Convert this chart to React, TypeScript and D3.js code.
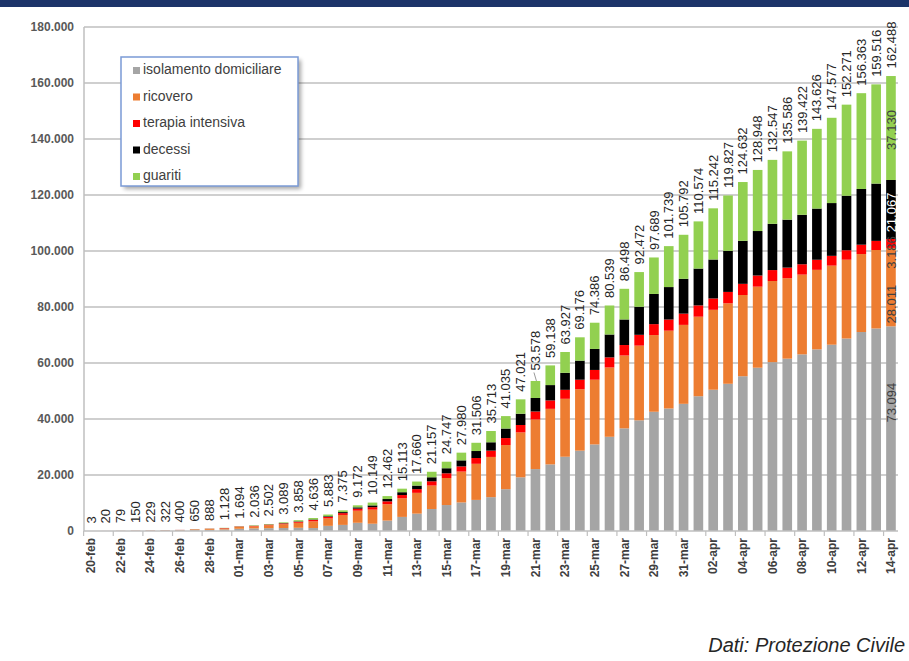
import React, { useEffect, useRef } from 'react'
import * as d3 from 'd3'

// date labels, one per bar
const dates = [
  '20-feb', '21-feb', '22-feb', '23-feb', '24-feb', '25-feb', '26-feb', '27-feb', '28-feb', '29-feb',
  '01-mar', '02-mar', '03-mar', '04-mar', '05-mar', '06-mar', '07-mar', '08-mar', '09-mar', '10-mar',
  '11-mar', '12-mar', '13-mar', '14-mar', '15-mar', '16-mar', '17-mar', '18-mar', '19-mar', '20-mar',
  '21-mar', '22-mar', '23-mar', '24-mar', '25-mar', '26-mar', '27-mar', '28-mar', '29-mar', '30-mar',
  '31-mar', '01-apr', '02-apr', '03-apr', '04-apr', '05-apr', '06-apr', '07-apr', '08-apr', '09-apr',
  '10-apr', '11-apr', '12-apr', '13-apr', '14-apr'
]

const isolamento = [
  0, 0, 28, 60, 94, 162, 221, 284, 412, 543,
  798, 927, 1000, 1065, 1155, 1060, 1843, 2180, 2936, 2599,
  3724, 5036, 6201, 7860, 9268, 10197, 11108, 12090, 14935, 19185,
  22116, 23783, 26522, 28697, 30920, 33648, 36653, 39533, 42588, 43752,
  45420, 48134, 50456, 52579, 55270, 58320, 60313, 61557, 63084, 64873,
  66534, 68744, 71063, 72333, 73094
]
const ricovero = [
  3, 16, 38, 66, 101, 114, 128, 248, 345, 401,
  639, 742, 1034, 1346, 1790, 2394, 2651, 3557, 4316, 5038,
  5838, 6650, 7426, 8372, 9663, 11025, 12894, 14363, 15757, 16020,
  17708, 19846, 20692, 21937, 23112, 24753, 26029, 26676, 27386, 27795,
  28192, 28403, 28540, 28741, 29010, 28949, 28976, 28718, 28485, 28399,
  28242, 28144, 27847, 28023, 28011
]
const terapia = [
  0, 3, 10, 21, 26, 35, 36, 56, 64, 105,
  140, 166, 229, 295, 351, 462, 567, 650, 733, 877,
  1028, 1153, 1328, 1518, 1672, 1851, 2060, 2257, 2498, 2655,
  2857, 3009, 3204, 3396, 3489, 3612, 3732, 3856, 3906, 3981,
  4023, 4035, 4053, 4068, 3994, 3977, 3898, 3792, 3693, 3605,
  3497, 3381, 3343, 3260, 3186
]
const decessi = [
  0, 1, 3, 3, 7, 10, 12, 17, 21, 29,
  34, 52, 79, 107, 148, 197, 233, 366, 463, 631,
  827, 1016, 1266, 1441, 1809, 2158, 2503, 2978, 3405, 4032,
  4825, 5476, 6077, 6820, 7503, 8165, 9134, 10023, 10779, 11591,
  12428, 13155, 13915, 14681, 15362, 15887, 16523, 17127, 17669, 18279,
  18849, 19468, 19899, 20465, 21067
]
const guariti = [
  0, 0, 0, 0, 1, 1, 3, 45, 46, 50,
  83, 149, 160, 276, 414, 523, 589, 622, 724, 1004,
  1045, 1258, 1439, 1966, 2335, 2749, 2941, 4025, 4440, 5129,
  6072, 7024, 7432, 8326, 9362, 10361, 10950, 12384, 13030, 14620,
  15729, 16847, 18278, 19758, 20996, 21815, 22837, 24392, 26491, 28470,
  30455, 32534, 34211, 35435, 37130
]

const seriesNames = ['isolamento domiciliare', 'ricovero', 'terapia intensiva', 'decessi', 'guariti']
const seriesValues = [isolamento, ricovero, terapia, decessi, guariti]
const seriesColors = ['#a5a5a5', '#ed7d31', '#ff0000', '#000000', '#92d050']

const yTicks = [0, 20000, 40000, 60000, 80000, 100000, 120000, 140000, 160000, 180000]

const FONT = "'Liberation Sans', Arial, Helvetica, sans-serif"

export default function App() {
  const svgRef = useRef<SVGSVGElement>(null)

  useEffect(() => {
    const svg = d3.select(svgRef.current)
    svg.selectAll('*').remove()

    const itFormat = d3.formatLocale({ decimal: ',', thousands: '.', grouping: [3], currency: ['', '€'] }).format(',d')

    const rows = dates.map((d, i) => {
      const row: any = { date: d }
      seriesNames.forEach((s, k) => { row[s] = seriesValues[k][i] })
      return row
    })
    const totals = rows.map(r => d3.sum(seriesNames, s => r[s]))
    const stacked = d3.stack().keys(seriesNames)(rows)

    const x = d3.scaleBand().domain(dates).range([84, 898]).paddingInner(0.35).paddingOuter(0.15)
    const y = d3.scaleLinear().domain([0, 180000]).range([531, 27])

    // header band
    svg.append('rect').attr('x', 0).attr('y', 0).attr('width', 909).attr('height', 7).attr('fill', '#1c3469')

    // gridlines
    svg.append('g').selectAll('line').data(yTicks.slice(1)).join('line')
      .attr('x1', 84).attr('x2', 898)
      .attr('y1', d => y(d)).attr('y2', d => y(d))
      .attr('stroke', '#bfbfbf').attr('stroke-width', 1.5)

    // y labels
    svg.append('g').selectAll('text').data(yTicks).join('text')
      .attr('x', 74).attr('y', d => y(d)).attr('dy', '0.35em')
      .attr('text-anchor', 'end')
      .style('font-family', FONT).style('font-size', '12px').style('font-weight', 'bold')
      .attr('fill', '#595959')
      .text(d => itFormat(d))

    // bars
    const layers = svg.append('g').selectAll('g').data(stacked).join('g')
      .attr('fill', (_d, i) => seriesColors[i])
    layers.selectAll('rect').data(d => d.map((v, i) => ({ v, i }))).join('rect')
      .attr('x', d => x(dates[d.i]) as number)
      .attr('width', x.bandwidth())
      .attr('y', d => y(d.v[1]))
      .attr('height', d => Math.max(0, y(d.v[0]) - y(d.v[1])))

    // axes lines
    svg.append('line').attr('x1', 84).attr('x2', 84).attr('y1', y(180000)).attr('y2', y(0))
      .attr('stroke', '#bfbfbf').attr('stroke-width', 1.5)
    svg.append('line').attr('x1', 84).attr('x2', 898).attr('y1', y(0)).attr('y2', y(0))
      .attr('stroke', '#bfbfbf').attr('stroke-width', 1.5)

    const step = x.step()
    const labelled = dates.filter((_d, i) => i % 2 === 0)
    svg.append('g').selectAll('line').data(labelled).join('line')
      .attr('x1', d => (x(d) as number) - step * 0.35 / 2)
      .attr('x2', d => (x(d) as number) - step * 0.35 / 2)
      .attr('y1', y(0)).attr('y2', y(0) + 5)
      .attr('stroke', '#bfbfbf').attr('stroke-width', 1.2)

    svg.append('g').selectAll('text').data(labelled).join('text')
      .attr('transform', d => `translate(${(x(d) as number) + x.bandwidth() / 2},${y(0) + 7}) rotate(-90)`)
      .attr('dy', '0.35em')
      .attr('text-anchor', 'end')
      .style('font-family', FONT).style('font-size', '12px').style('font-weight', 'bold')
      .attr('fill', '#404040')
      .text(d => d)

    // total labels
    const totG = svg.append('g')
    totals.forEach((t, i) => {
      const cx = (x(dates[i]) as number) + x.bandwidth() / 2
      const extra = i === 30 ? 3 : 0
      const top = y(t) - 7.5 - extra
      if (extra) {
        totG.append('line').attr('x1', cx - 1.5).attr('x2', cx + 1).attr('y1', top + 2).attr('y2', y(t))
          .attr('stroke', '#7f7f7f').attr('stroke-width', 0.8)
      }
      totG.append('text')
        .attr('transform', `translate(${cx},${top}) rotate(-90)`)
        .attr('dy', '0.35em')
        .style('font-family', FONT).style('font-size', '13px')
        .attr('fill', '#262626')
        .text(itFormat(t))
    })

    // segment labels on the last bar (nudged like the original)
    const labelNudge = [-26, 17, 9, 3, 2]
    const last = dates.length - 1
    const lastCx = (x(dates[last]) as number) + x.bandwidth() / 2
    stacked.forEach((layer, k) => {
      const seg = layer[last]
      svg.append('text')
        .attr('transform', `translate(${lastCx},${(y(seg[0]) + y(seg[1])) / 2 + labelNudge[k]}) rotate(-90)`)
        .attr('dy', '0.35em')
        .attr('text-anchor', 'middle')
        .style('font-family', FONT).style('font-size', '13px')
        .attr('fill', k === 3 ? '#ffffff' : '#404040')
        .text(itFormat(seriesValues[k][last]))
    })

    // legend
    const defs = svg.append('defs')
    defs.append('filter').attr('id', 'legShadow').attr('x', '-10%').attr('y', '-10%').attr('width', '130%').attr('height', '130%')
      .append('feGaussianBlur').attr('stdDeviation', 2)
    const leg = svg.append('g').attr('transform', 'translate(121,57)')
    leg.append('rect').attr('x', 3).attr('y', 3).attr('width', 177).attr('height', 129)
      .attr('fill', '#000').attr('opacity', 0.35).attr('filter', 'url(#legShadow)')
    leg.append('rect').attr('width', 177).attr('height', 129)
      .attr('fill', '#ffffff').attr('stroke', '#7b9bd6').attr('stroke-width', 1.5)
    seriesNames.forEach((s, k) => {
      const base = 17 + k * 26.5
      leg.append('rect').attr('x', 12).attr('y', base - 7).attr('width', 7).attr('height', 7).attr('fill', seriesColors[k])
      leg.append('text').attr('x', 22).attr('y', base)
        .style('font-family', FONT).style('font-size', '14px')
        .attr('fill', '#404040')
        .text(s)
    })

    // source
    svg.append('text').attr('x', 905).attr('y', 652).attr('text-anchor', 'end')
      .style('font-family', FONT).style('font-size', '20px').style('font-style', 'italic')
      .attr('fill', '#262626')
      .text('Dati: Protezione Civile')
  }, [])

  return (
    <div style={{ position: 'absolute', left: 0, top: 0 }}>
      <svg ref={svgRef} width={909} height={661} style={{ display: 'block', background: '#ffffff' }} />
    </div>
  )
}
